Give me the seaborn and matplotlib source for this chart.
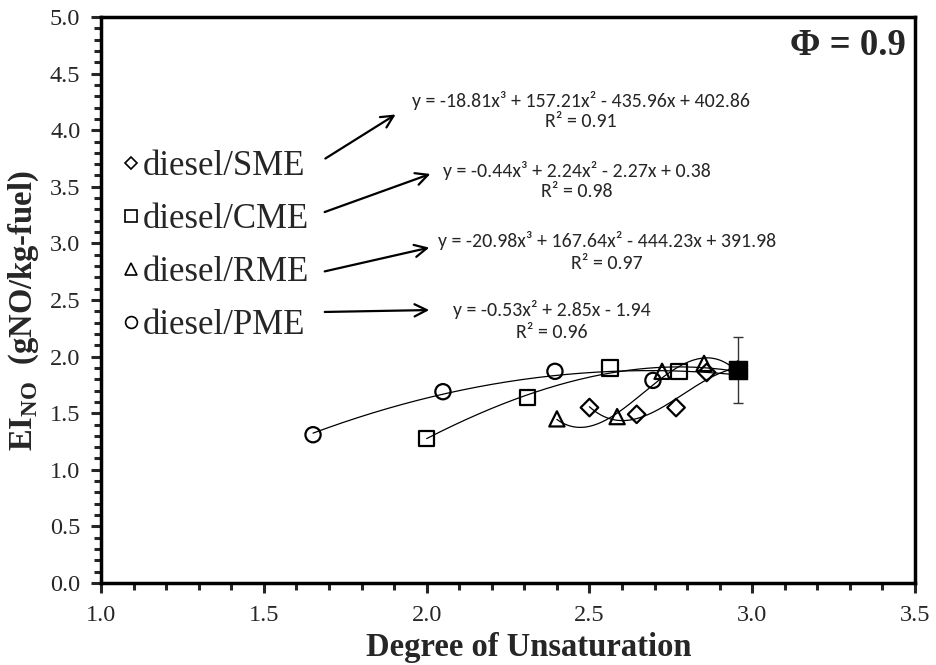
import numpy as np
import pandas as pd
import matplotlib
matplotlib.use("Agg")
import matplotlib.pyplot as plt
import seaborn as sns
from matplotlib.lines import Line2D
from matplotlib.ticker import MultipleLocator, FormatStrFormatter

# Measured NO emission index versus degree of unsaturation (phi = 0.9)
sme_x = [2.50, 2.645, 2.766, 2.86, 2.955]
sme_y = [1.55, 1.49, 1.55, 1.86, 1.88]
cme_x = [2.00, 2.31, 2.563, 2.775, 2.955]
cme_y = [1.28, 1.64, 1.90, 1.87, 1.88]
rme_x = [2.40, 2.585, 2.723, 2.852, 2.955]
rme_y = [1.45, 1.47, 1.87, 1.94, 1.88]
pme_x = [1.651, 2.05, 2.394, 2.695, 2.955]
pme_y = [1.31, 1.69, 1.87, 1.79, 1.88]

# Diesel reference point with its error bar
diesel_x = [2.955]
diesel_y = [1.88]
diesel_err = [0.29]

labels = ["diesel/SME", "diesel/CME", "diesel/RME", "diesel/PME"]
fit_degrees = [3, 3, 3, 2]
equations = [
    "y = -18.81x³ + 157.21x² - 435.96x + 402.86",
    "y = -0.44x³ + 2.24x² - 2.27x + 0.38",
    "y = -20.98x³ + 167.64x² - 444.23x + 391.98",
    "y = -0.53x² + 2.85x - 1.94",
]
r_squared = ["R² = 0.91", "R² = 0.98", "R² = 0.97", "R² = 0.96"]

series_x = [sme_x, cme_x, rme_x, pme_x]
series_y = [sme_y, cme_y, rme_y, pme_y]
markers = ["D", "s", "^", "o"]
marker_sizes = [80, 120, 120, 120]

df = pd.concat(
    [pd.DataFrame({"x": xs, "y": ys, "fuel": lab})
     for xs, ys, lab in zip(series_x, series_y, labels)],
    ignore_index=True,
)

sns.set_style("ticks")
plt.rcParams["font.family"] = ["Liberation Serif", "DejaVu Serif"]
plt.rcParams["mathtext.fontset"] = "custom"
plt.rcParams["mathtext.rm"] = "Liberation Serif"
plt.rcParams["mathtext.bf"] = "Liberation Serif:bold"

fig = plt.figure(figsize=(9.36, 6.65), dpi=100)
ax = fig.add_axes([0.108, 0.1233, 0.8696, 0.8511])

# Polynomial trend lines through each blend series
for lab, deg in zip(labels, fit_degrees):
    sub = df[df["fuel"] == lab]
    coef = np.polyfit(sub["x"], sub["y"], deg)
    xs = np.linspace(sub["x"].min(), sub["x"].max(), 200)
    sns.lineplot(x=xs, y=np.polyval(coef, xs), ax=ax, color="black",
                 linewidth=0.9, legend=False)

ax.errorbar(diesel_x, diesel_y, yerr=diesel_err, fmt="none", ecolor="#333333",
            elinewidth=1.0, capsize=3.5, capthick=1.0, zorder=2)

for lab, mk, ms in zip(labels, markers, marker_sizes):
    sub = df[df["fuel"] == lab]
    sns.scatterplot(data=sub, x="x", y="y", marker=mk, s=ms, ax=ax,
                    facecolor="none", edgecolor="black", linewidth=1.6,
                    legend=False, zorder=3)

sns.scatterplot(x=diesel_x, y=diesel_y, marker="s", s=170, color="black",
                edgecolor="black", ax=ax, legend=False, zorder=4)

ax.set_xlim(1.0, 3.5)
ax.set_ylim(0.0, 5.0)
ax.xaxis.set_major_locator(MultipleLocator(0.5))
ax.xaxis.set_minor_locator(MultipleLocator(0.1))
ax.yaxis.set_major_locator(MultipleLocator(0.5))
ax.yaxis.set_minor_locator(MultipleLocator(0.1))
ax.xaxis.set_major_formatter(FormatStrFormatter("%.1f"))
ax.yaxis.set_major_formatter(FormatStrFormatter("%.1f"))
ax.tick_params(axis="both", which="major", direction="out", length=7,
               width=2.2, labelsize=17.5, pad=8)
ax.tick_params(axis="both", which="minor", direction="out", length=5,
               width=2.2)
ax.tick_params(axis="x", which="major", pad=9)
for sp in ax.spines.values():
    sp.set_linewidth(2.5)
    sp.set_color("black")

ax.set_xlabel("Degree of Unsaturation", fontsize=23.5, fontweight="bold",
              labelpad=4)
ax.set_ylabel(r"$\mathbf{EI}_{\mathbf{NO}}$  (gNO/kg-fuel)", fontsize=23.5,
              fontweight="bold", labelpad=6)
ax.xaxis.label.set_x(0.526)
ax.yaxis.label.set_y(0.482)

ax.text(3.472, 4.75, "Φ = 0.9", fontsize=26.5, fontweight="bold",
        ha="right", va="center")

# Marker key for the four blends
handles = [Line2D([], [], linestyle="none", marker=mk, markersize=ms,
                  markerfacecolor="none", markeredgecolor="black",
                  markeredgewidth=1.2)
           for mk, ms in zip(markers, [6.5, 8.5, 8.5, 8.5])]
leg = ax.legend(handles, labels, loc="upper left",
                bbox_to_anchor=(0.011, 0.79), frameon=False, fontsize=25,
                handlelength=0.4, handletextpad=0.15, labelspacing=0.58,
                borderaxespad=0)

# Trend-line equations with arrows pointing from the key entries
eq_pos = [(1.0 + (581 - 101) / 325.6, (583 - 100) / 113.2),
          (1.0 + (577 - 101) / 325.6, (583 - 170) / 113.2),
          (1.0 + (607 - 101) / 325.6, (583 - 240) / 113.2),
          (1.0 + (552 - 101) / 325.6, (583 - 309) / 113.2)]
r2_dy = [0.19, 0.19, 0.21, 0.21]
arrow_tail = [(323, 160), (322, 213), (322, 272), (322, 312)]
arrow_head = [(398, 113), (433, 173), (432, 247), (432, 310)]

eq_family = ["Carlito", "Lato", "DejaVu Sans"]
for (ex, ey), eq, r2, dy in zip(eq_pos, equations, r_squared, r2_dy):
    ax.text(ex, ey, eq, fontsize=14.3, family=eq_family,
            ha="center", va="center")
    ax.text(ex, ey - dy, r2, fontsize=14.3, family=eq_family,
            ha="center", va="center")

for (tx, ty), (hx, hy) in zip(arrow_tail, arrow_head):
    ax.annotate("", xy=(hx / 936, 1 - hy / 665), xycoords="figure fraction",
                xytext=(tx / 936, 1 - ty / 665), textcoords="figure fraction",
                arrowprops=dict(arrowstyle="->", color="black", lw=1.6,
                                mutation_scale=22))

fig.savefig("out.png", dpi=100)
